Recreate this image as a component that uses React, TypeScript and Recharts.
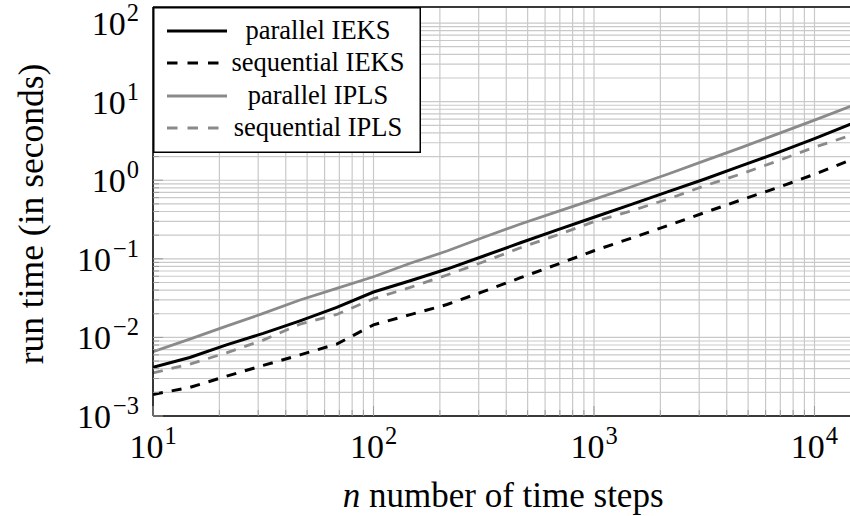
import React from 'react';
import { LineChart, Line, XAxis, YAxis, CartesianGrid, Legend, ReferenceLine } from 'recharts';

// Number of time steps (log-spaced, six per decade)
const timeSteps = [
  10, 14.68, 21.54, 31.62, 46.42, 68.13, 100, 146.8, 215.4, 316.2,
  464.2, 681.3, 1000, 1468, 2154, 3162, 4642, 6813, 10000, 14678,
];

// Run times in seconds
const parallelIEKS = [
  0.00415, 0.00556, 0.00805, 0.01125, 0.01626, 0.0241, 0.0378, 0.0526, 0.0741, 0.1087,
  0.16, 0.233, 0.338, 0.49, 0.71, 1.03, 1.52, 2.25, 3.39, 5.21,
];
const sequentialIEKS = [
  0.00188, 0.00231, 0.00321, 0.0044, 0.006, 0.00822, 0.01445, 0.0195, 0.0262, 0.0385,
  0.0575, 0.085, 0.1267, 0.1824, 0.264, 0.386, 0.561, 0.806, 1.19, 1.82,
];
const parallelIPLS = [
  0.00656, 0.0095, 0.0139, 0.0202, 0.0299, 0.042, 0.0591, 0.0877, 0.1256, 0.188,
  0.277, 0.398, 0.57, 0.82, 1.19, 1.76, 2.6, 3.89, 5.81, 8.77,
];
const sequentialIPLS = [
  0.00354, 0.00457, 0.00637, 0.00924, 0.01475, 0.0196, 0.031, 0.0433, 0.0622, 0.0918,
  0.1383, 0.201, 0.297, 0.406, 0.573, 0.845, 1.2, 1.76, 2.63, 3.74,
];

// Axis ranges and tick labels
const X_MIN = 10;
const X_MAX = 14678;
const Y_MIN = 1e-3;
const Y_MAX = 160;
const xMajorTicks = [10, 100, 1000, 10000];
const yMajorTicks = [1e-3, 1e-2, 1e-1, 1, 10, 100];
const minorFactors = [2, 3, 4, 5, 6, 7, 8, 9];

const FONT = '"Liberation Serif", "Times New Roman", serif';
const GRAY = '#8a8a8a';

const series = [
  { key: 'parIEKS', name: 'parallel IEKS', color: '#000000', dash: undefined as string | undefined, width: 3 },
  { key: 'seqIEKS', name: 'sequential IEKS', color: '#000000', dash: '10 9', width: 3 },
  { key: 'parIPLS', name: 'parallel IPLS', color: GRAY, dash: undefined as string | undefined, width: 2.8 },
  { key: 'seqIPLS', name: 'sequential IPLS', color: GRAY, dash: '10 9', width: 2.8 },
];

const data = timeSteps.map((n, i) => ({
  n,
  parIEKS: parallelIEKS[i],
  seqIEKS: sequentialIEKS[i],
  parIPLS: parallelIPLS[i],
  seqIPLS: sequentialIPLS[i],
}));

const withMinors = (majors: number[], max: number) =>
  majors
    .flatMap((m) => [m, ...minorFactors.map((f) => +(m * f).toPrecision(6))])
    .filter((v) => v <= max);

const xTicks = withMinors(xMajorTicks, X_MAX);
const yTicks = withMinors(yMajorTicks, Y_MAX);

const exponentOf = (v: number) => Math.round(Math.log10(v));
const isMajor = (v: number) => Math.abs(Math.log10(v) - exponentOf(v)) < 1e-9;
const expText = (e: number) => (e < 0 ? '\u2212' + Math.abs(e) : String(e));

const TICK_COLOR = '#9a9a9a';
const TICK_FONT = 34;
const SUP_FONT = 24.5;

const XTick = (props: any) => {
  const { x, y, payload } = props;
  const v = payload.value;
  const major = isMajor(v);
  return (
    <g>
      <line x1={x} x2={x} y1={y} y2={y - (major ? 10 : 6)} stroke={TICK_COLOR} strokeWidth={1} />
      {major && (
        <text x={x} y={y + 42} textAnchor="middle" fontFamily={FONT} fontSize={TICK_FONT} fill="#000">
          <tspan>10</tspan>
          <tspan dy={-14} dx={1} fontSize={SUP_FONT}>{expText(exponentOf(v))}</tspan>
        </text>
      )}
    </g>
  );
};

const YTick = (props: any) => {
  const { x, y, payload } = props;
  const v = payload.value;
  const major = isMajor(v);
  const e = exponentOf(v);
  return (
    <g>
      <line x1={x} x2={x + (major ? 10 : 6)} y1={y} y2={y} stroke={TICK_COLOR} strokeWidth={1} />
      {major && (
        <text x={x - 14} y={y + 12} textAnchor="end" fontFamily={FONT} fontSize={TICK_FONT} fill="#000">
          <tspan>10</tspan>
          <tspan dy={-14} dx={e < 0 ? 2 : 1} fontSize={SUP_FONT}>{expText(e)}</tspan>
        </text>
      )}
    </g>
  );
};

const LegendBox = () => {
  const rowY = [24, 56, 89, 121];
  return (
    <svg width={268} height={146} style={{ display: 'block' }}>
      <rect x={0.75} y={0.75} width={266.5} height={144.5} fill="#fff" stroke="#000" strokeWidth={1.5} />
      {series.map((s, i) => (
        <g key={s.key}>
          <line
            x1={14}
            x2={74}
            y1={rowY[i]}
            y2={rowY[i]}
            stroke={s.color}
            strokeWidth={s.width}
            strokeDasharray={s.dash ? '10.5 10' : undefined}
          />
          <text x={165} y={rowY[i] + 8} textAnchor="middle" fontFamily={FONT} fontSize={26.5} fill="#000">
            {s.name}
          </text>
        </g>
      ))}
    </svg>
  );
};

const YTitle = (props: any) => {
  const { viewBox } = props;
  const cx = viewBox.x + 43;
  const cy = viewBox.y + viewBox.height / 2 + 2.5;
  return (
    <text
      x={cx}
      y={cy}
      transform={`rotate(-90, ${cx}, ${cy})`}
      textAnchor="middle"
      fontFamily={FONT}
      fontSize={35.5}
      fill="#000"
    >
      run time (in seconds)
    </text>
  );
};

const XTitle = (props: any) => {
  const { viewBox } = props;
  const cx = viewBox.x + viewBox.width / 2 + 1;
  const cy = viewBox.y + 91;
  return (
    <text x={cx} y={cy} textAnchor="middle" fontFamily={FONT} fontSize={35} fill="#000">
      <tspan fontStyle="italic">n</tspan>
      <tspan> number of time steps</tspan>
    </text>
  );
};

export default function App() {
  return (
    <div
      style={{
        position: 'absolute',
        left: 0,
        top: 0,
        width: 850,
        height: 516,
        overflow: 'hidden',
        background: '#fff',
      }}
    >
      <LineChart
        width={860}
        height={516}
        data={data}
        margin={{ top: 7, right: 8.75, bottom: 0, left: 0 }}
      >
        <CartesianGrid stroke="#c9c9c9" strokeWidth={1.2} />
        <XAxis
          dataKey="n"
          type="number"
          scale="log"
          domain={[X_MIN, X_MAX]}
          allowDataOverflow
          ticks={xTicks}
          interval={0}
          tick={<XTick />}
          tickLine={false}
          tickSize={0}
          tickMargin={0}
          height={100}
          axisLine={{ stroke: '#000', strokeWidth: 1.5 }}
          label={{ content: <XTitle /> } as any}
        />
        <YAxis
          type="number"
          scale="log"
          domain={[Y_MIN, Y_MAX]}
          allowDataOverflow
          ticks={yTicks}
          interval={0}
          tick={<YTick />}
          tickLine={false}
          tickSize={0}
          tickMargin={0}
          width={153}
          axisLine={{ stroke: '#000', strokeWidth: 1.5 }}
          label={{ content: <YTitle /> } as any}
        />
        <ReferenceLine y={Y_MAX} stroke="#000" strokeWidth={1.5} />
        {series.map((s) => (
          <Line
            key={s.key}
            dataKey={s.key}
            name={s.name}
            type="linear"
            stroke={s.color}
            strokeWidth={s.width}
            strokeDasharray={s.dash}
            dot={false}
            activeDot={false}
            isAnimationActive={false}
          />
        ))}
        <Legend
          layout="vertical"
          align="center"
          verticalAlign="middle"
          content={<LegendBox />}
          wrapperStyle={{ left: 153, top: 7, width: 268, height: 146 }}
        />
      </LineChart>
    </div>
  );
}
